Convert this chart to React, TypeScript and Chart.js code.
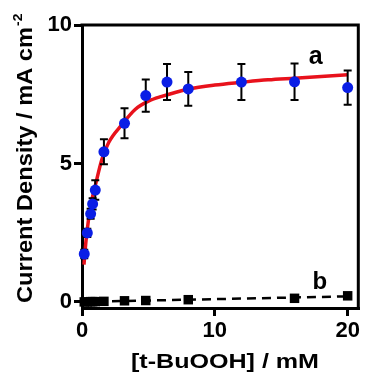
import { useEffect, useRef } from 'react';
import { Chart, registerables } from 'chart.js';
Chart.register(...registerables);

// Series a (blue circles with error bars)
const seriesAX = [0.17, 0.4, 0.65, 0.8, 1.0, 1.65, 3.2, 4.8, 6.4, 8.0, 12.0, 16.0, 20.0];
const seriesAY = [1.73, 2.49, 3.18, 3.54, 4.04, 5.42, 6.45, 7.45, 7.94, 7.69, 7.94, 7.95, 7.74];
const seriesAErr = [0.15, 0.15, 0.18, 0.2, 0.35, 0.45, 0.54, 0.58, 0.65, 0.61, 0.65, 0.66, 0.62];

// Fitted curve for a (red)
const fitAX = [0.15, 0.2, 0.3, 0.5, 0.75, 1, 1.5, 2, 3, 4, 5, 6, 8, 10, 12, 14, 16, 18, 20];
const fitAY = [1.35, 1.65, 2.2, 3.0, 3.7, 4.2, 5.15, 5.75, 6.4, 6.95, 7.25, 7.42, 7.68, 7.83, 7.93, 8.02, 8.08, 8.14, 8.2];

// Series b (black squares)
const seriesBX = [0.17, 0.4, 0.65, 0.8, 1.0, 1.65, 3.2, 4.8, 8.0, 16.0, 20.0];
const seriesBY = [0.0, 0.0, 0.01, 0.01, 0.01, 0.02, 0.04, 0.05, 0.08, 0.13, 0.22];

// Dashed fit for b
const fitBX = [0, 20];
const fitBY = [0.0, 0.2];

const xTicks = [0, 10, 20];
const yTicks = [0, 5, 10];

const xTitle = '[t-BuOOH] / mM';
const yTitle = 'Current Density / mA cm';
const yTitleSup = '-2';
const labelA = 'a';
const labelB = 'b';

const FONT = '"Liberation Sans", Arial, sans-serif';

const pts = (xs: number[], ys: number[]) => xs.map((x, i) => ({ x, y: ys[i] }));

export default function App() {
  const ref = useRef<HTMLCanvasElement>(null);
  useEffect(() => {
    document.body.style.margin = '0';
    const errorBars = {
      id: 'errorBars',
      beforeDatasetDraw(chart: any, args: any) {
        if (args.index !== 2) return;
        const { ctx, scales } = chart;
        ctx.save();
        ctx.strokeStyle = '#000';
        ctx.lineWidth = 2;
        seriesAX.forEach((x, i) => {
          const px = scales.x.getPixelForValue(x);
          const top = scales.y.getPixelForValue(seriesAY[i] + seriesAErr[i]);
          const bot = scales.y.getPixelForValue(seriesAY[i] - seriesAErr[i]);
          ctx.beginPath();
          ctx.moveTo(px, top);
          ctx.lineTo(px, bot);
          ctx.moveTo(px - 4, top);
          ctx.lineTo(px + 4, top);
          ctx.moveTo(px - 4, bot);
          ctx.lineTo(px + 4, bot);
          ctx.stroke();
        });
        ctx.restore();
      },
    };
    const stretched = (ctx: any, text: string, font: string, target: number) => {
      ctx.font = font;
      const w = ctx.measureText(text).width;
      const s = target / w;
      return s;
    };
    const decor = {
      id: 'decor',
      afterDraw(chart: any) {
        const { ctx, chartArea, scales } = chart;
        ctx.save();
        // frame top / right
        ctx.strokeStyle = '#000';
        ctx.lineWidth = 3;
        ctx.beginPath();
        ctx.moveTo(chartArea.left - 1.5, chartArea.top);
        ctx.lineTo(chartArea.right, chartArea.top);
        ctx.lineTo(chartArea.right, chartArea.bottom + 1.5);
        ctx.stroke();
        // labels a, b
        ctx.fillStyle = '#000';
        ctx.textAlign = 'center';
        ctx.textBaseline = 'middle';
        ctx.font = `bold 25px ${FONT}`;
        ctx.fillText(labelA, scales.x.getPixelForValue(17.6), scales.y.getPixelForValue(8.84));
        ctx.font = `bold 24px ${FONT}`;
        ctx.fillText(labelB, scales.x.getPixelForValue(17.9), scales.y.getPixelForValue(0.72));
        // x title
        const xf = `bold 20px ${FONT}`;
        const sx = stretched(ctx, xTitle, xf, 188);
        ctx.save();
        ctx.translate(225, 368);
        ctx.scale(sx, 1);
        ctx.textBaseline = 'alphabetic';
        ctx.textAlign = 'center';
        ctx.fillText(xTitle, 0, 0);
        ctx.restore();
        // y title
        const yf = `bold 22px ${FONT}`;
        const sy = stretched(ctx, yTitle, yf, 276);
        ctx.save();
        ctx.translate(32, 303);
        ctx.rotate(-Math.PI / 2);
        ctx.scale(sy, 1);
        ctx.textBaseline = 'alphabetic';
        ctx.textAlign = 'left';
        ctx.font = yf;
        ctx.fillText(yTitle, 0, 0);
        const w = ctx.measureText(yTitle).width;
        ctx.font = `bold 13px ${FONT}`;
        ctx.fillText(yTitleSup, w + 1, -10);
        ctx.restore();
        ctx.restore();
      },
    };
    const tickFont = { family: FONT, size: 22, weight: 'bold' as const };
    const chart = new Chart(ref.current!, {
      type: 'scatter',
      data: {
        datasets: [
          {
            data: pts(fitAX, fitAY),
            showLine: true,
            borderColor: '#e8121c',
            borderWidth: 3.5,
            pointRadius: 0,
            cubicInterpolationMode: 'monotone',
            order: 3,
          },
          {
            data: pts(fitBX, fitBY),
            showLine: true,
            borderColor: '#000',
            borderWidth: 2.5,
            borderDash: [9, 6],
            pointRadius: 0,
            order: 3,
          },
          {
            data: pts(seriesAX, seriesAY),
            pointStyle: 'circle',
            pointRadius: 5.5,
            backgroundColor: '#0a1ee6',
            borderColor: '#0a1ee6',
            borderWidth: 0,
            clip: false as any,
            order: 1,
          },
          {
            data: pts(seriesBX, seriesBY),
            pointStyle: 'rect',
            pointRadius: 6.7,
            backgroundColor: '#000',
            borderColor: '#000',
            borderWidth: 0,
            clip: false as any,
            order: 1,
          },
        ],
      },
      options: {
        animation: false,
        responsive: false,
        events: [],
        layout: { padding: { top: 25, right: 5, left: 0, bottom: 0 } },
        plugins: { legend: { display: false }, tooltip: { enabled: false } },
        scales: {
          x: {
            type: 'linear',
            min: 0,
            max: 20.8,
            afterBuildTicks: (s: any) => { s.ticks = xTicks.map((v) => ({ value: v })); },
            afterFit: (s: any) => { s.height = 65; },
            ticks: { font: tickFont, color: '#000', padding: 2, maxRotation: 0, callback: (v: any) => String(v) },
            grid: { display: true, drawOnChartArea: false, drawTicks: true, tickLength: 8, lineWidth: 3, color: '#000' },
            border: { display: true, width: 3, color: '#000' },
          },
          y: {
            type: 'linear',
            min: -0.22,
            max: 10,
            afterBuildTicks: (s: any) => { s.ticks = yTicks.map((v) => ({ value: v })); },
            afterFit: (s: any) => { s.width = 82; },
            ticks: { font: tickFont, color: '#000', padding: 2, callback: (v: any) => String(v) },
            grid: { display: true, drawOnChartArea: false, drawTicks: true, tickLength: 8, lineWidth: 3, color: '#000' },
            border: { display: true, width: 3, color: '#000' },
          },
        },
      },
      plugins: [errorBars, decor],
    });
    return () => chart.destroy();
  }, []);
  return (
    <div style={{ width: 365, height: 373 }}>
      <canvas ref={ref} width={365} height={373} style={{ display: 'block' }} />
    </div>
  );
}
